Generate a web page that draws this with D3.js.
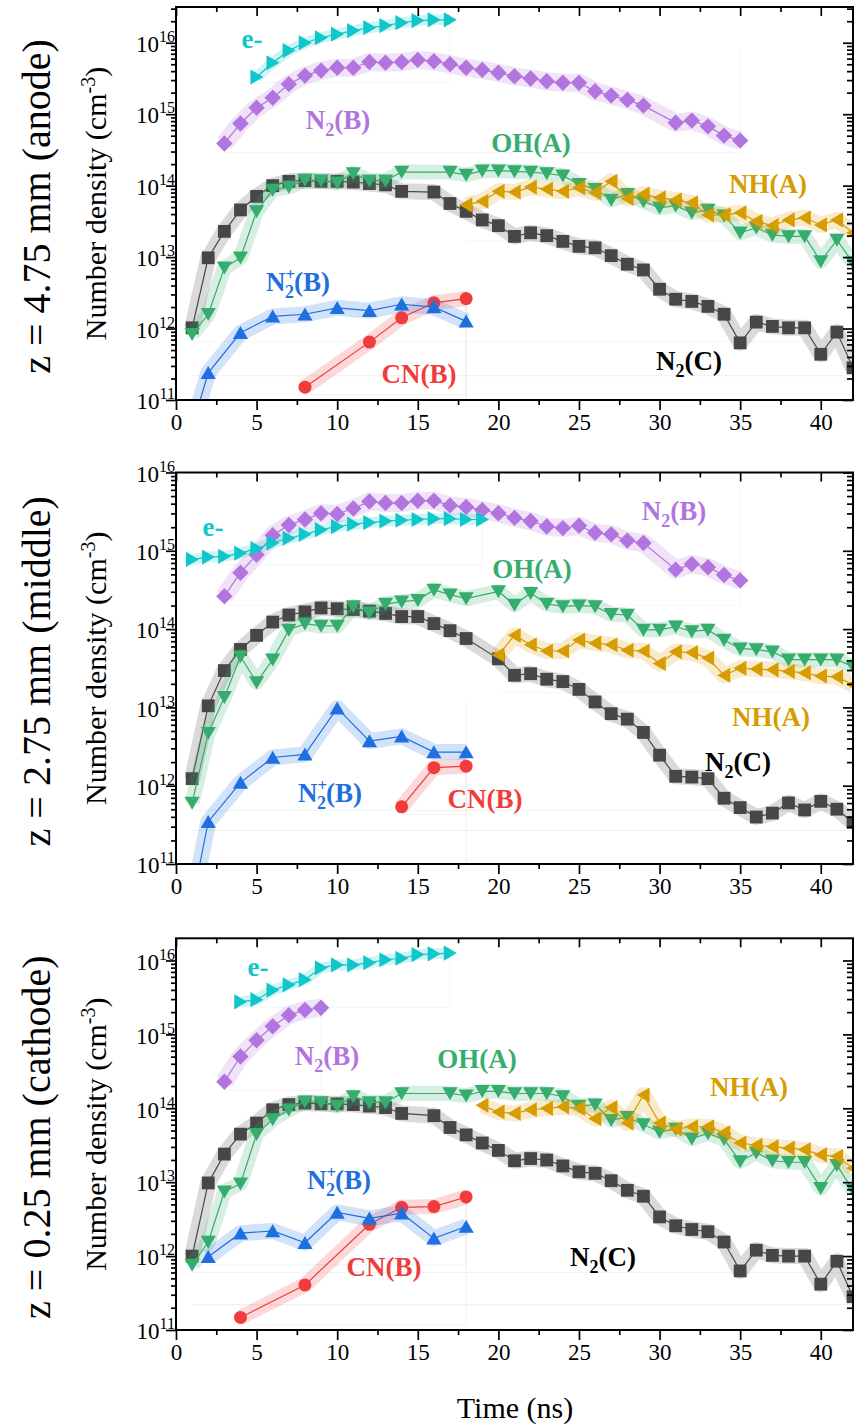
<!DOCTYPE html>
<html><head><meta charset="utf-8">
<script src="https://cdn.jsdelivr.net/npm/d3@7"></script>
<style>body{margin:0;background:#fff}svg{display:block}text{font-family:"Liberation Serif","Times New Roman",serif}</style>
</head><body><svg id="c" width="857" height="1425"></svg>
<script>
// ---- data: time (ns) and log10(number density / cm^-3) ----
const X_TICKS = [0,5,10,15,20,25,30,35,40];

// z = 4.75 mm (anode)
const p1_e_t = [5,6,7,8,9,10,11,12,13,14,15,16,17];
const p1_e_v = [15.52,15.72,15.89,16.00,16.07,16.12,16.17,16.21,16.24,16.28,16.31,16.32,16.32];
const p1_N2B_t = [3,4,5,6,7,8,9,10,11,12,13,14,15,16,17,18,19,20,21,22,23,24,25,26,27,28,29,31,32,33,34,35];
const p1_N2B_v = [14.59,14.87,15.09,15.23,15.42,15.54,15.61,15.65,15.65,15.73,15.72,15.73,15.76,15.74,15.70,15.65,15.62,15.58,15.53,15.50,15.46,15.44,15.44,15.32,15.26,15.20,15.12,14.88,14.91,14.83,14.70,14.63];
const p1_OH_t = [1,2,3,4,5,6,7,8,9,10,11,12,13,14,17,18,19,20,21,22,23,24,25,26,27,28,29,30,31,32,33,34,35,36,37,38,39,40,41,42];
const p1_OH_v = [11.92,12.20,12.85,12.99,13.64,13.94,13.98,14.08,14.07,14.04,14.17,14.07,14.07,14.19,14.19,14.15,14.21,14.21,14.20,14.19,14.17,14.14,14.02,13.95,13.80,13.88,13.78,13.69,13.72,13.62,13.66,13.58,13.34,13.41,13.31,13.29,13.29,12.94,13.24,12.92];
const p1_NH_t = [18,19,20,21,22,23,24,25,26,27,28,29,30,31,32,33,34,35,36,37,38,39,40,41,42];
const p1_NH_v = [13.73,13.78,13.92,13.91,13.98,13.95,13.92,13.97,13.90,14.06,13.82,13.88,13.83,13.80,13.76,13.59,13.59,13.62,13.50,13.44,13.52,13.55,13.45,13.52,13.34];
const p1_N2C_t = [1,2,3,4,5,6,7,8,9,10,11,12,13,14,16,17,18,19,20,21,22,23,24,25,26,27,28,29,30,31,32,33,34,35,36,37,38,39,40,41,42];
const p1_N2C_v = [12.01,12.99,13.36,13.66,13.85,14.00,14.06,14.07,14.06,14.06,14.05,14.03,14.01,13.92,13.91,13.75,13.64,13.52,13.44,13.29,13.34,13.30,13.22,13.15,13.13,13.02,12.90,12.82,12.55,12.41,12.38,12.31,12.20,11.80,12.09,12.03,12.01,12.01,11.64,11.95,11.45];
const p1_N2p_t = [1,2,4,6,8,10,12,14,16,18];
const p1_N2p_v = [10.62,11.38,11.94,12.17,12.20,12.29,12.25,12.34,12.30,12.10];
const p1_CN_t = [8,12,14,16,18];
const p1_CN_v = [11.18,11.81,12.15,12.36,12.42];

// z = 2.75 mm (middle)
const p2_e_t = [1,2,3,4,5,6,7,8,9,10,11,12,13,14,15,16,17,18,19];
const p2_e_v = [14.89,14.92,14.93,14.97,15.03,15.10,15.16,15.21,15.27,15.31,15.34,15.36,15.38,15.39,15.40,15.41,15.41,15.40,15.40];
const p2_N2B_t = [3,4,5,6,7,8,9,10,11,12,13,14,15,16,17,18,19,20,21,22,23,24,25,26,27,28,29,31,32,33,34,35];
const p2_N2B_v = [14.42,14.72,14.95,15.20,15.33,15.40,15.48,15.47,15.54,15.63,15.61,15.61,15.64,15.64,15.58,15.56,15.52,15.48,15.42,15.38,15.31,15.29,15.32,15.23,15.21,15.13,15.10,14.76,14.83,14.79,14.69,14.62];
const p2_OH_t = [1,2,3,4,5,6,7,8,9,10,11,12,13,14,15,16,17,18,20,21,22,23,24,25,26,27,28,29,30,31,32,33,34,35,36,37,38,39,40,41,42];
const p2_OH_v = [11.78,12.67,13.13,13.65,13.32,13.61,13.99,14.07,14.04,14.04,14.29,14.21,14.32,14.35,14.37,14.50,14.44,14.39,14.48,14.31,14.46,14.32,14.29,14.30,14.29,14.19,14.18,13.99,13.99,14.03,13.97,13.99,13.86,13.75,13.74,13.71,13.61,13.61,13.61,13.61,13.52];
const p2_NH_t = [20,21,22,23,24,25,26,27,28,29,30,31,32,33,34,35,36,37,38,39,40,41,42];
const p2_NH_v = [13.67,13.92,13.80,13.72,13.72,13.86,13.82,13.80,13.73,13.72,13.56,13.71,13.70,13.63,13.41,13.50,13.49,13.48,13.46,13.44,13.40,13.39,13.29];
const p2_N2C_t = [1,2,3,4,5,6,7,8,9,10,11,12,13,14,15,16,17,18,20,21,22,23,24,25,26,27,28,29,30,31,32,33,34,35,36,37,38,39,40,41,42];
const p2_N2C_v = [12.09,13.02,13.47,13.74,13.92,14.09,14.18,14.22,14.27,14.26,14.25,14.23,14.20,14.16,14.16,14.07,13.98,13.88,13.62,13.41,13.43,13.36,13.33,13.23,13.07,12.92,12.85,12.68,12.39,12.12,12.11,12.09,11.84,11.72,11.60,11.65,11.78,11.69,11.80,11.70,11.53];
const p2_N2p_t = [1,2,4,6,8,10,12,14,16,18];
const p2_N2p_v = [10.50,11.54,12.04,12.36,12.40,12.99,12.57,12.63,12.43,12.43];
const p2_CN_t = [14,16,18];
const p2_CN_v = [11.73,12.23,12.25];

// z = 0.25 mm (cathode)
const p3_e_t = [4,5,6,7,8,9,10,11,12,13,14,15,16,17];
const p3_e_v = [15.44,15.47,15.60,15.67,15.74,15.90,15.94,15.94,15.97,16.01,16.03,16.08,16.09,16.10];
const p3_N2B_t = [3,4,5,6,7,8,9];
const p3_N2B_v = [14.36,14.70,14.92,15.11,15.26,15.33,15.36];
const p3_OH_t = [1,2,3,4,5,6,7,8,9,10,11,12,13,14,17,18,19,20,21,22,23,24,25,26,27,28,29,30,31,32,33,34,35,36,37,38,39,40,41,42];
const p3_OH_v = [11.88,12.19,12.87,12.98,13.65,13.85,13.98,14.09,14.08,14.03,14.16,14.08,14.08,14.20,14.20,14.17,14.23,14.23,14.20,14.20,14.20,14.16,14.03,14.05,13.84,13.88,13.78,13.68,13.72,13.59,13.66,13.58,13.28,13.40,13.29,13.27,13.27,12.92,13.23,12.89];
const p3_NH_t = [19,20,21,22,23,24,25,26,27,28,29,30,31,32,33,34,35,36,37,38,39,40,41,42];
const p3_NH_v = [14.04,13.95,13.93,13.98,14.00,14.02,14.00,13.86,14.01,13.80,14.18,13.80,13.72,13.75,13.75,13.67,13.53,13.50,13.48,13.46,13.44,13.37,13.35,13.19];
const p3_N2C_t = [1,2,3,4,5,6,7,8,9,10,11,12,13,14,16,17,18,19,20,21,22,23,24,25,26,27,28,29,30,31,32,33,34,35,36,37,38,39,40,41,42];
const p3_N2C_v = [12.00,12.99,13.38,13.65,13.80,13.98,14.05,14.07,14.06,14.06,14.05,14.03,14.01,13.93,13.90,13.74,13.64,13.53,13.43,13.29,13.32,13.30,13.22,13.14,13.12,13.02,12.89,12.81,12.53,12.41,12.36,12.33,12.19,11.80,12.08,12.01,12.00,12.00,11.62,11.93,11.45];
const p3_N2p_t = [2,4,6,8,10,12,14,16,18];
const p3_N2p_v = [11.99,12.31,12.34,12.18,12.59,12.51,12.58,12.24,12.40];
const p3_CN_t = [4,8,12,14,16,18];
const p3_CN_v = [11.17,11.61,12.43,12.66,12.67,12.80];

// ---- styles ----
const STY = {
  N2C:{c:"#474747", lc:"#000000", shape:"square", bw:16},
  OH:{c:"#35ad6c", lc:"#35ad6c", shape:"down", bw:15},
  NH:{c:"#d69c00", lc:"#d69c00", shape:"left", bw:16},
  CN:{c:"#f03c3c", lc:"#f03c3c", shape:"circle", bw:15},
  N2p:{c:"#1f6fe0", lc:"#1f6fe0", shape:"up", bw:16},
  N2B:{c:"#b274de", lc:"#b274de", shape:"diamond", bw:18},
  e:{c:"#10c6c9", lc:"#10c6c9", shape:"right", bw:11}
};
const ORDER = ["N2C","OH","NH","CN","N2p","N2B","e"];

const PANELS = [
  {title:"z = 4.75 mm (anode)", top:7, bottom:400, logMax:16.5,
   series:{N2C:[p1_N2C_t,p1_N2C_v],OH:[p1_OH_t,p1_OH_v],NH:[p1_NH_t,p1_NH_v],CN:[p1_CN_t,p1_CN_v],N2p:[p1_N2p_t,p1_N2p_v],N2B:[p1_N2B_t,p1_N2B_v],e:[p1_e_t,p1_e_v]},
   labels:[["e",252,48],["N2B",338,129],["OH",531,152],["NH",768,193],["N2p",298,291],["CN",419,383],["N2C",689,370]]},
  {title:"z = 2.75 mm (middle)", top:472.5, bottom:864, logMax:16,
   series:{N2C:[p2_N2C_t,p2_N2C_v],OH:[p2_OH_t,p2_OH_v],NH:[p2_NH_t,p2_NH_v],CN:[p2_CN_t,p2_CN_v],N2p:[p2_N2p_t,p2_N2p_v],N2B:[p2_N2B_t,p2_N2B_v],e:[p2_e_t,p2_e_v]},
   labels:[["e",213,536],["N2B",674,520],["OH",532,578],["NH",771,726],["N2C",738,771],["N2p",330,802],["CN",485,808]]},
  {title:"z = 0.25 mm (cathode)", top:938.3, bottom:1330, logMax:16.3,
   series:{N2C:[p3_N2C_t,p3_N2C_v],OH:[p3_OH_t,p3_OH_v],NH:[p3_NH_t,p3_NH_v],CN:[p3_CN_t,p3_CN_v],N2p:[p3_N2p_t,p3_N2p_v],N2B:[p3_N2B_t,p3_N2B_v],e:[p3_e_t,p3_e_v]},
   labels:[["e",258,976],["N2B",327,1065],["OH",477,1068],["NH",749,1096],["N2p",339,1189],["CN",384,1276],["N2C",603,1266]]}
];

const svg = d3.select("#c");
const L = 176, R = 853;
const X = d3.scaleLinear().domain([0,42]).range([L,R]);

function shapePath(s){
  switch(s){
    case "square": return "M-6.4,-6.4H6.4V6.4H-6.4Z";
    case "diamond": return "M0,-8.2L8.2,0L0,8.2L-8.2,0Z";
    case "up": return "M0,-6.8L7.6,6.2L-7.6,6.2Z";
    case "down": return "M0,6.8L7.6,-6.2L-7.6,-6.2Z";
    case "left": return "M-6.8,0L6.2,-7.6L6.2,7.6Z";
    case "right": return "M6.8,0L-6.2,-7.6L-6.2,7.6Z";
  }
  return "";
}

function addLabel(g, key, cx, y){
  const t = g.append("text").attr("x",cx).attr("y",y).attr("text-anchor","middle")
    .attr("font-weight","bold").attr("font-size",27).attr("fill",STY[key].lc);
  const sub = (s)=>{ t.append("tspan").attr("font-size",18).attr("dy",7).text(s); };
  switch(key){
    case "e": t.text("e-"); break;
    case "OH": t.text("OH(A)"); break;
    case "NH": t.text("NH(A)"); break;
    case "CN": t.text("CN(B)"); break;
    case "N2B": t.append("tspan").text("N"); sub("2"); t.append("tspan").attr("dy",-7).text("(B)"); break;
    case "N2C": t.append("tspan").text("N"); sub("2"); t.append("tspan").attr("dy",-7).text("(C)"); break;
    case "N2p":
      t.append("tspan").text("N");
      t.append("tspan").attr("font-size",17).attr("dy",-11).text("+");
      t.append("tspan").attr("font-size",18).attr("dx",-10).attr("dy",18).text("2");
      t.append("tspan").attr("dy",-7).text("(B)");
      break;
  }
}

PANELS.forEach((P, pi) => {
  const Y = d3.scaleLog().domain([1e11, Math.pow(10,P.logMax)]).range([P.bottom, P.top]);
  const g = svg.append("g");
  const clipId = "clip" + pi;
  svg.append("clipPath").attr("id", clipId).append("rect")
    .attr("x", L).attr("y", P.top).attr("width", R - L).attr("height", P.bottom - P.top);
  const plot = g.append("g").attr("clip-path", `url(#${clipId})`);
  const line = d3.line().x(d => X(d[0])).y(d => Y(Math.pow(10, d[1])));

  // faint outlines (bottom and right edges) of the band regions
  ORDER.forEach(k => {
    const s = P.series[k]; if (!s) return;
    const ys = s[1].map(v => Y(Math.pow(10, v)));
    const x0 = X(s[0][0]), x1 = X(s[0][s[0].length-1]);
    const y0 = d3.min(ys) - STY[k].bw/2, y1 = d3.max(ys) + STY[k].bw/2;
    plot.append("path").attr("d", `M${x0},${y1}H${x1}V${y0}`)
      .attr("fill","none").attr("stroke", STY[k].c).attr("stroke-opacity", 0.09).attr("stroke-width", 1);
  });

  ORDER.forEach(k => {
    const s = P.series[k]; if (!s) return;
    const pts = s[0].map((t, i) => [t, s[1][i]]);
    const st = STY[k];
    plot.append("path").attr("d", line(pts)).attr("fill","none").attr("stroke", st.c)
      .attr("stroke-opacity", 0.2).attr("stroke-width", st.bw).attr("stroke-linejoin","round");
    plot.append("path").attr("d", line(pts)).attr("fill","none").attr("stroke", st.c).attr("stroke-width", 1.2);
    const mk = plot.append("g").selectAll("g").data(pts).join("g")
      .attr("transform", d => `translate(${X(d[0])},${Y(Math.pow(10, d[1]))})`);
    if (st.shape === "circle") mk.append("circle").attr("r", 6.5).attr("fill", st.c);
    else mk.append("path").attr("d", shapePath(st.shape)).attr("fill", st.c);
  });

  // labels
  P.labels.forEach(([k, cx, y]) => addLabel(g, k, cx, y));

  // axes
  const majors = d3.range(11, Math.floor(P.logMax) + 1).map(e => Math.pow(10, e));
  const minors = [];
  for (let e = 11; e <= 16; e++) for (let m = 2; m <= 9; m++) { const v = m * Math.pow(10, e); if (Math.log10(v) <= P.logMax) minors.push(v); }
  const xMinor = X_TICKS.map(t => t + 2.5);

  const styleAxis = sel => { sel.select(".domain").remove(); sel.selectAll("line").attr("stroke","#000").attr("stroke-width",1.7); };

  g.append("g").attr("transform", `translate(0,${P.bottom})`)
    .call(d3.axisBottom(X).tickValues(X_TICKS).tickSize(10).tickPadding(4).tickFormat(d3.format("d")))
    .call(styleAxis)
    .call(s => s.selectAll("text").attr("font-size", 23).attr("font-family","Liberation Serif").attr("fill","#000"));
  g.append("g").attr("transform", `translate(0,${P.bottom})`)
    .call(d3.axisBottom(X).tickValues(xMinor).tickSize(5).tickFormat("")).call(styleAxis);
  g.append("g").attr("transform", `translate(0,${P.top})`)
    .call(d3.axisTop(X).tickValues(X_TICKS).tickSize(-9).tickFormat("")).call(styleAxis);
  g.append("g").attr("transform", `translate(0,${P.top})`)
    .call(d3.axisTop(X).tickValues(xMinor).tickSize(-5).tickFormat("")).call(styleAxis);

  const gl = g.append("g").attr("transform", `translate(${L},0)`)
    .call(d3.axisLeft(Y).tickValues(majors).tickSize(10).tickFormat(() => ""))
    .call(styleAxis);
  gl.selectAll(".tick text").each(function(d){
    const s = d3.select(this);
    s.text(null).attr("x", -1).attr("dy", "0.38em").attr("font-size", 23)
      .attr("font-family","Liberation Serif").attr("fill","#000").attr("text-anchor","end");
    s.append("tspan").text("10");
    s.append("tspan").attr("font-size", 16).attr("dy", -10).text(Math.round(Math.log10(d)));
  });
  g.append("g").attr("transform", `translate(${L},0)`)
    .call(d3.axisLeft(Y).tickValues(minors).tickSize(5).tickFormat("")).call(styleAxis);
  g.append("g").attr("transform", `translate(${R},0)`)
    .call(d3.axisRight(Y).tickValues(majors).tickSize(-10).tickFormat("")).call(styleAxis);
  g.append("g").attr("transform", `translate(${R},0)`)
    .call(d3.axisRight(Y).tickValues(minors).tickSize(-6).tickFormat("")).call(styleAxis);

  // frame
  g.append("rect").attr("x", L).attr("y", P.top).attr("width", R - L).attr("height", P.bottom - P.top)
    .attr("fill","none").attr("stroke","#000").attr("stroke-width",2);

  // axis titles
  const cy = (P.top + P.bottom) / 2;
  const yt = g.append("text").attr("transform", `translate(106,${cy}) rotate(-90)`)
    .attr("text-anchor","middle").attr("font-size",30).attr("fill","#000");
  yt.append("tspan").text("Number density (cm");
  yt.append("tspan").attr("font-size",20).attr("dy",-11).text("-3");
  yt.append("tspan").attr("dy",11).text(")");
  g.append("text").attr("transform", `translate(50,${cy + 3}) rotate(-90)`)
    .attr("text-anchor","middle").attr("font-size",40).attr("fill","#000").text(P.title);
});

svg.append("text").attr("x", 515).attr("y", 1418).attr("text-anchor","middle")
  .attr("font-size",30).attr("fill","#000").text("Time (ns)");
</script></body></html>
